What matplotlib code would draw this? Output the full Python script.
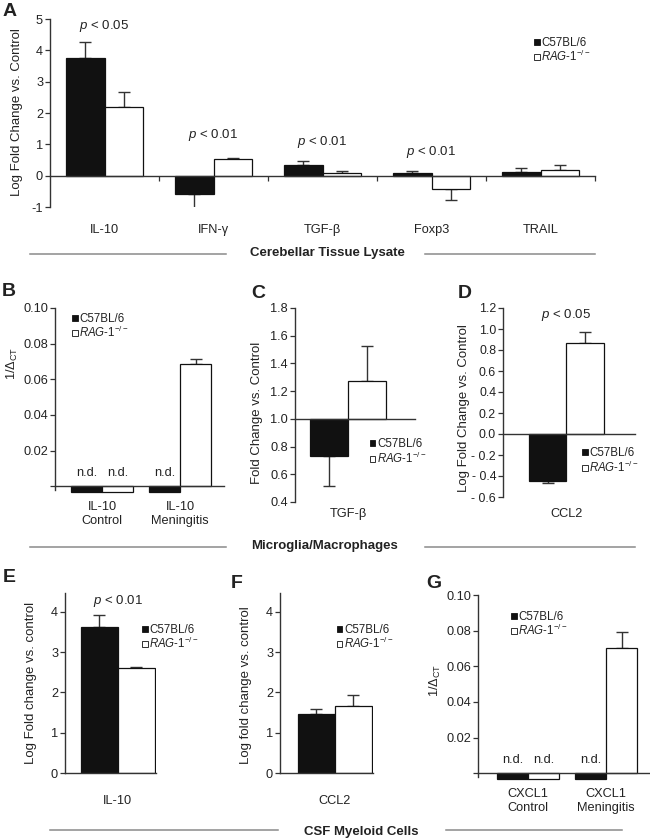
import matplotlib
matplotlib.use('Agg')
import matplotlib.pyplot as plt
import matplotlib.transforms as mtransforms
from matplotlib.patches import Rectangle
from matplotlib.lines import Line2D
import numpy as np

plt.rcParams['font.family'] = ['Liberation Sans', 'DejaVu Sans']
plt.rcParams['mathtext.fontset'] = 'custom'
plt.rcParams['mathtext.rm'] = 'Liberation Sans'
plt.rcParams['mathtext.it'] = 'Liberation Sans:italic'
plt.rcParams['mathtext.bf'] = 'Liberation Sans:bold'

# ---- data ----
# A: cerebellar tissue lysate
a_genes = ['IL-10', 'IFN-γ', 'TGF-β', 'Foxp3', 'TRAIL']
a_b6 = [3.76, -0.58, 0.34, 0.07, 0.11]
a_b6_err = [0.50, 0.65, 0.13, 0.07, 0.12]
a_rag = [2.19, 0.53, 0.07, -0.44, 0.17]
a_rag_err = [0.48, 0.04, 0.07, 0.35, 0.17]
a_pvals = ['$p$ < 0.05', '$p$ < 0.01', '$p$ < 0.01', '$p$ < 0.01', '']

# B: microglia IL-10 (1/dCT), n.d. drawn as tiny negative bars
b_cats = ['IL-10\nControl', 'IL-10\nMeningitis']
b_b6 = [-0.003, -0.003]
b_rag = [-0.003, 0.0685]
b_rag_err = [0, 0.003]
b_nd = [(0, 'b6'), (0, 'rag'), (1, 'b6')]

# C: microglia TGF-b fold change
c_b6, c_b6_err = 0.735, 0.22
c_rag, c_rag_err = 1.275, 0.25

# D: microglia CCL2
d_b6, d_b6_err = -0.45, 0.02
d_rag, d_rag_err = 0.87, 0.10

# E/F: CSF myeloid cells
e_b6, e_b6_err = 3.63, 0.30
e_rag, e_rag_err = 2.61, 0.03
f_b6, f_b6_err = 1.47, 0.12
f_rag, f_rag_err = 1.66, 0.27

# G: CXCL1
g_cats = ['CXCL1\nControl', 'CXCL1\nMeningitis']
g_b6 = [-0.003, -0.003]
g_rag = [-0.003, 0.070]
g_rag_err = [0, 0.0095]

RAG = r'$\mathit{RAG}$-$\mathit{1}^{-/-}$'
TXT = '#222222'
AXC = '#333333'
BLACK = '#111111'

W, H = 650, 839
fig = plt.figure(figsize=(6.5, 8.39), dpi=100)


def px_axes(left, top, right, bottom):
    return fig.add_axes([left / W, 1 - bottom / H, (right - left) / W, (bottom - top) / H])


def ftext(x, y, s, **kw):
    kw.setdefault('color', TXT)
    fig.text(x / W, 1 - y / H, s, **kw)


def hline(x0, x1, y):
    fig.add_artist(Line2D([x0 / W, x1 / W], [1 - y / H, 1 - y / H], color='#8a8a8a', lw=1.1))


def legend_px(x, y1, y2, size=8.3):
    sq = 5.5
    for y, fc, lab in [(y1, BLACK, 'C57BL/6'), (y2, 'white', RAG)]:
        fig.add_artist(Rectangle((x / W, 1 - (y + sq / 2) / H), sq / W, sq / H,
                                 facecolor=fc, edgecolor=BLACK, lw=0.6))
        ftext(x + sq + 1.5, y + 4, lab, fontsize=size, va='baseline', ha='left')


def style(ax, ticks, labels, zero=0.0, bounds=None, size=9.2):
    for s in ['top', 'right']:
        ax.spines[s].set_visible(False)
    ax.spines['bottom'].set_position(('data', zero))
    for s in ['left', 'bottom']:
        ax.spines[s].set_color(AXC)
        ax.spines[s].set_linewidth(1.0)
    if bounds is not None:
        ax.spines['left'].set_bounds(*bounds)
    ax.set_yticks(ticks)
    ax.set_yticklabels(labels)
    ax.tick_params(axis='y', direction='out', length=3.5, width=0.9, color=AXC,
                   labelsize=size, pad=1.5, labelcolor=TXT)
    ax.tick_params(axis='x', length=0, labelbottom=False)
    ax.patch.set_visible(False)


def err(ax, xs, vals, errs, base=0.0):
    for x, v, e in zip(xs, vals, errs):
        if e <= 0:
            continue
        if v >= base:
            lo, hi = 0, e
        else:
            lo, hi = e, 0
        ax.errorbar(x, v, yerr=[[lo], [hi]], fmt='none', ecolor=AXC, elinewidth=1.0,
                    capsize=4, capthick=1.0, zorder=1)


def pair_bars(ax, xs, b6, b6e, rag, rage, w, base=0.0):
    xs = np.asarray(xs, dtype=float)
    b6 = np.atleast_1d(b6)
    rag = np.atleast_1d(rag)
    ax.bar(xs - w / 2, b6 - base, w, bottom=base, color=BLACK, edgecolor=BLACK, lw=0.9, zorder=2)
    ax.bar(xs + w / 2, rag - base, w, bottom=base, color='white', edgecolor=BLACK, lw=0.9, zorder=2)
    err(ax, xs - w / 2, b6, np.atleast_1d(b6e), base)
    err(ax, xs + w / 2, rag, np.atleast_1d(rage), base)


def cat_label(ax, x, y_px, s, **kw):
    tr = mtransforms.blended_transform_factory(ax.transData, fig.transFigure)
    kw.setdefault('fontsize', 9.2)
    ax.text(x, 1 - y_px / H, s, transform=tr, ha='center', va='center', color=TXT,
            clip_on=False, linespacing=1.25, **kw)


# ---------------- panel A ----------------
axA = px_axes(50, 19, 595, 207)
xa = np.arange(len(a_genes))
pair_bars(axA, xa, a_b6, a_b6_err, a_rag, a_rag_err, 0.35)
axA.set_xlim(-0.5, 4.5)
axA.set_ylim(-1, 5)
style(axA, range(-1, 6), [str(v) for v in range(-1, 6)])
axA.set_xticks(np.arange(0.5, 5, 1.0))
axA.tick_params(axis='x', direction='out', length=3.5, width=0.9, color=AXC)
for i, g in enumerate(a_genes):
    cat_label(axA, i, 230, g)
for i, (p, y) in enumerate(zip(a_pvals, [26, 135, 142, 152, 0])):
    if p:
        cat_label(axA, i, y, p, fontsize=9.5)
ftext(17, 112, 'Log Fold Change vs. Control', rotation=90, ha='center', va='center', fontsize=9.5)
legend_px(534, 42, 57)
ftext(10, 12, 'A', fontsize=14, fontweight='bold', ha='center', va='center')
ftext(327, 253, 'Cerebellar Tissue Lysate', fontsize=9.5, fontweight='bold', ha='center', va='center')
hline(30, 226, 254)
hline(425, 595, 254)

# ---------------- panel B ----------------
axB = px_axes(55, 308, 224, 497)
xb = np.arange(len(b_cats))
pair_bars(axB, xb, b_b6, [0, 0], b_rag, b_rag_err, 0.4)
axB.set_xlim(-0.6, 1.56)
axB.set_ylim(-0.006, 0.10)
style(axB, [0, 0.02, 0.04, 0.06, 0.08, 0.10], ['', '0.02', '0.04', '0.06', '0.08', '0.10'],
      bounds=(-0.002, 0.10))
for i, c in enumerate(b_cats):
    cat_label(axB, i, 514, c)
for i, who in b_nd:
    cat_label(axB, i + (-0.2 if who == 'b6' else 0.2), 473, 'n.d.')
ftext(12, 363, r'1/$\Delta_{\mathrm{CT}}$', rotation=90, ha='center', va='center', fontsize=9.2)
legend_px(72, 318, 333)
ftext(9, 292, 'B', fontsize=14, fontweight='bold', ha='center', va='center')

# ---------------- panel C ----------------
axC = px_axes(295, 308, 415, 502)
pair_bars(axC, [0], c_b6, c_b6_err, c_rag, c_rag_err, 0.35, base=1.0)
axC.set_xlim(-0.49, 0.62)
axC.set_ylim(0.4, 1.8)
cticks = np.round(np.arange(0.4, 1.81, 0.2), 1)
style(axC, cticks, ['%.1f' % v for v in cticks], zero=1.0)
cat_label(axC, 0, 514, 'TGF-β')
ftext(257, 413, 'Fold Change vs. Control', rotation=90, ha='center', va='center', fontsize=9.5)
legend_px(370, 443, 459)
ftext(258, 294, 'C', fontsize=14, fontweight='bold', ha='center', va='center')

# ---------------- panel D ----------------
axD = px_axes(503, 308, 635, 497)
pair_bars(axD, [0], d_b6, d_b6_err, d_rag, d_rag_err, 0.35)
axD.set_xlim(-0.59, 0.64)
axD.set_ylim(-0.6, 1.2)
dticks = np.round(np.arange(-0.6, 1.21, 0.2), 1)
dlabels = [('- %.1f' % abs(v)) if v < 0 else '%.1f' % v for v in dticks]
style(axD, dticks, dlabels, size=8.9)
cat_label(axD, 0, 514, 'CCL2')
cat_label(axD, 0, 315, '$p$ < 0.05', fontsize=9.5)
ftext(464, 408, 'Log Fold Change vs. Control', rotation=90, ha='center', va='center', fontsize=9.5)
legend_px(582, 452, 468)
ftext(465, 294, 'D', fontsize=14, fontweight='bold', ha='center', va='center')

ftext(324, 546, 'Microglia/Macrophages', fontsize=9.5, fontweight='bold', ha='center', va='center')
hline(30, 226, 547)
hline(425, 635, 547)

# ---------------- panel E ----------------
axE = px_axes(65, 593, 156, 773)
pair_bars(axE, [0], e_b6, e_b6_err, e_rag, e_rag_err, 0.35)
axE.set_xlim(-0.5, 0.36)
axE.set_ylim(0, 4.47)
style(axE, range(0, 5), [str(v) for v in range(0, 5)])
cat_label(axE, 0, 801, 'IL-10')
cat_label(axE, 0, 601, '$p$ < 0.01', fontsize=9.5)
ftext(31, 683, 'Log Fold change vs. control', rotation=90, ha='center', va='center', fontsize=9.5)
legend_px(142, 629, 644)
ftext(9, 578, 'E', fontsize=14, fontweight='bold', ha='center', va='center')

# ---------------- panel F ----------------
axF = px_axes(280, 593, 373, 773)
pair_bars(axF, [0], f_b6, f_b6_err, f_rag, f_rag_err, 0.35)
axF.set_xlim(-0.52, 0.36)
axF.set_ylim(0, 4.47)
style(axF, range(0, 5), [str(v) for v in range(0, 5)])
cat_label(axF, 0, 801, 'CCL2')
ftext(246, 685, 'Log fold change vs. control', rotation=90, ha='center', va='center', fontsize=9.5)
legend_px(337, 629, 644)
ftext(237, 583, 'F', fontsize=14, fontweight='bold', ha='center', va='center')

# ---------------- panel G ----------------
axG = px_axes(478, 595, 650, 784)
xg = np.arange(len(g_cats))
pair_bars(axG, xg, g_b6, [0, 0], g_rag, g_rag_err, 0.4)
axG.set_xlim(-0.64, 1.56)
axG.set_ylim(-0.006, 0.10)
style(axG, [0, 0.02, 0.04, 0.06, 0.08, 0.10], ['', '0.02', '0.04', '0.06', '0.08', '0.10'],
      bounds=(-0.002, 0.10))
for i, c in enumerate(g_cats):
    cat_label(axG, i, 801, c)
for i, who in b_nd:
    cat_label(axG, i + (-0.2 if who == 'b6' else 0.2), 760, 'n.d.')
ftext(435, 680, r'1/$\Delta_{\mathrm{CT}}$', rotation=90, ha='center', va='center', fontsize=9.2)
legend_px(511, 616, 631)
ftext(434, 583, 'G', fontsize=14, fontweight='bold', ha='center', va='center')

ftext(361, 832, 'CSF Myeloid Cells', fontsize=9.5, fontweight='bold', ha='center', va='center')
hline(50, 278, 830)
hline(446, 622, 830)

fig.savefig('out.png', dpi=100, facecolor='white')
